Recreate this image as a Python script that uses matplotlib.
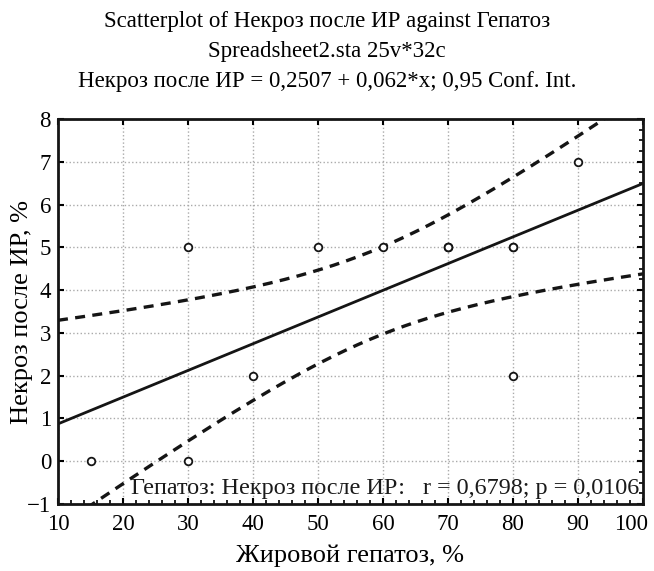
import numpy as np
import matplotlib.pyplot as plt
from matplotlib.ticker import MultipleLocator
from matplotlib.transforms import ScaledTranslation

# данные: Жировой гепатоз (%) и Некроз после ИР (%)
gepatoz = [15, 30, 30, 40, 50, 60, 70, 70, 70, 80, 80, 80, 90]
nekroz = [0, 0, 5, 2, 5, 5, 5, 5, 5, 5, 5, 2, 7]
x_ticks = [10, 20, 30, 40, 50, 60, 70, 80, 90, 100]
y_ticks = [-1, 0, 1, 2, 3, 4, 5, 6, 7, 8]
title_lines = ["Scatterplot of Некроз после ИР against Гепатоз",
               "Spreadsheet2.sta 25v*32c",
               "Некроз после ИР = 0,2507 + 0,062*x; 0,95 Conf. Int."]
stat_text = "Гепатоз: Некроз после ИР:   r = 0,6798; p = 0,0106"
t_crit = 2.201  # t(0.975, df=11)

plt.rcParams['font.family'] = ['Liberation Serif', 'DejaVu Serif']

x = np.array(gepatoz, dtype=float)
y = np.array(nekroz, dtype=float)
n = len(x)
slope, intercept = np.polyfit(x, y, 1)
resid = y - (intercept + slope * x)
s = np.sqrt(np.sum(resid ** 2) / (n - 2))
sxx = np.sum((x - x.mean()) ** 2)

xs = np.linspace(x_ticks[0], x_ticks[-1], 200)
fit = intercept + slope * xs
half = t_crit * s * np.sqrt(1 / n + (xs - x.mean()) ** 2 / sxx)

fig = plt.figure(figsize=(6.54, 5.71), dpi=100)
ax = fig.add_axes([58 / 654, 1 - 504 / 571, 585 / 654, 385 / 571])

ax.plot(xs, fit, color='#151515', lw=2)
ax.plot(xs, fit + half, color='#151515', lw=2.4, ls=(0, (3, 2.2)))
ax.plot(xs, fit - half, color='#151515', lw=2.4, ls=(0, (3, 2.2)))
ax.scatter(x, y, s=30, facecolors='white', edgecolors='#151515', linewidths=1.3, zorder=3)

ax.set_xlim(x_ticks[0], x_ticks[-1])
ax.set_ylim(y_ticks[0], y_ticks[-1])
ax.set_xticks(x_ticks)
ax.set_yticks(y_ticks)
ax.xaxis.set_minor_locator(MultipleLocator(2))
ax.yaxis.set_minor_locator(MultipleLocator(0.25))
ax.tick_params(which='major', direction='in', top=True, right=True, length=4, width=1.5,
               labelsize=16.5)
ax.tick_params(axis='x', which='major', pad=7)
ax.tick_params(axis='y', which='major', pad=5)
ax.tick_params(which='minor', direction='in', bottom=True, right=True, top=False, left=False,
               length=3, width=1.2)
ax.grid(True, which='major', color='#aaaaaa', ls=':', lw=1)
for side in ax.spines.values():
    side.set_linewidth(2)
    side.set_color('#151515')

# последняя метка "100" прижата к правому краю
last = ax.get_xticklabels()[-1]
last.set_horizontalalignment('right')
last.set_transform(last.get_transform() + ScaledTranslation(5 / 100, 0, fig.dpi_scale_trans))

ax.set_xlabel('Жировой гепатоз, %', fontsize=19)
ax.set_ylabel('Некроз после ИР, %', fontsize=19)
ax.xaxis.set_label_coords(0.5, -52 / 385)
ax.xaxis.label.set_va('center')
ax.yaxis.set_label_coords(-36 / 585, 0.5)
ax.yaxis.label.set_va('center')
ax.text(0.993, 0.012, stat_text, transform=ax.transAxes, ha='right', va='bottom',
        fontsize=17.4, color='#1a1a1a')

for i, line in enumerate(title_lines):
    fig.text(0.5, 1 - (22 + 30 * i) / 571, line, ha='center', va='center', fontsize=16.5)

plt.savefig('out.png', dpi=100)
